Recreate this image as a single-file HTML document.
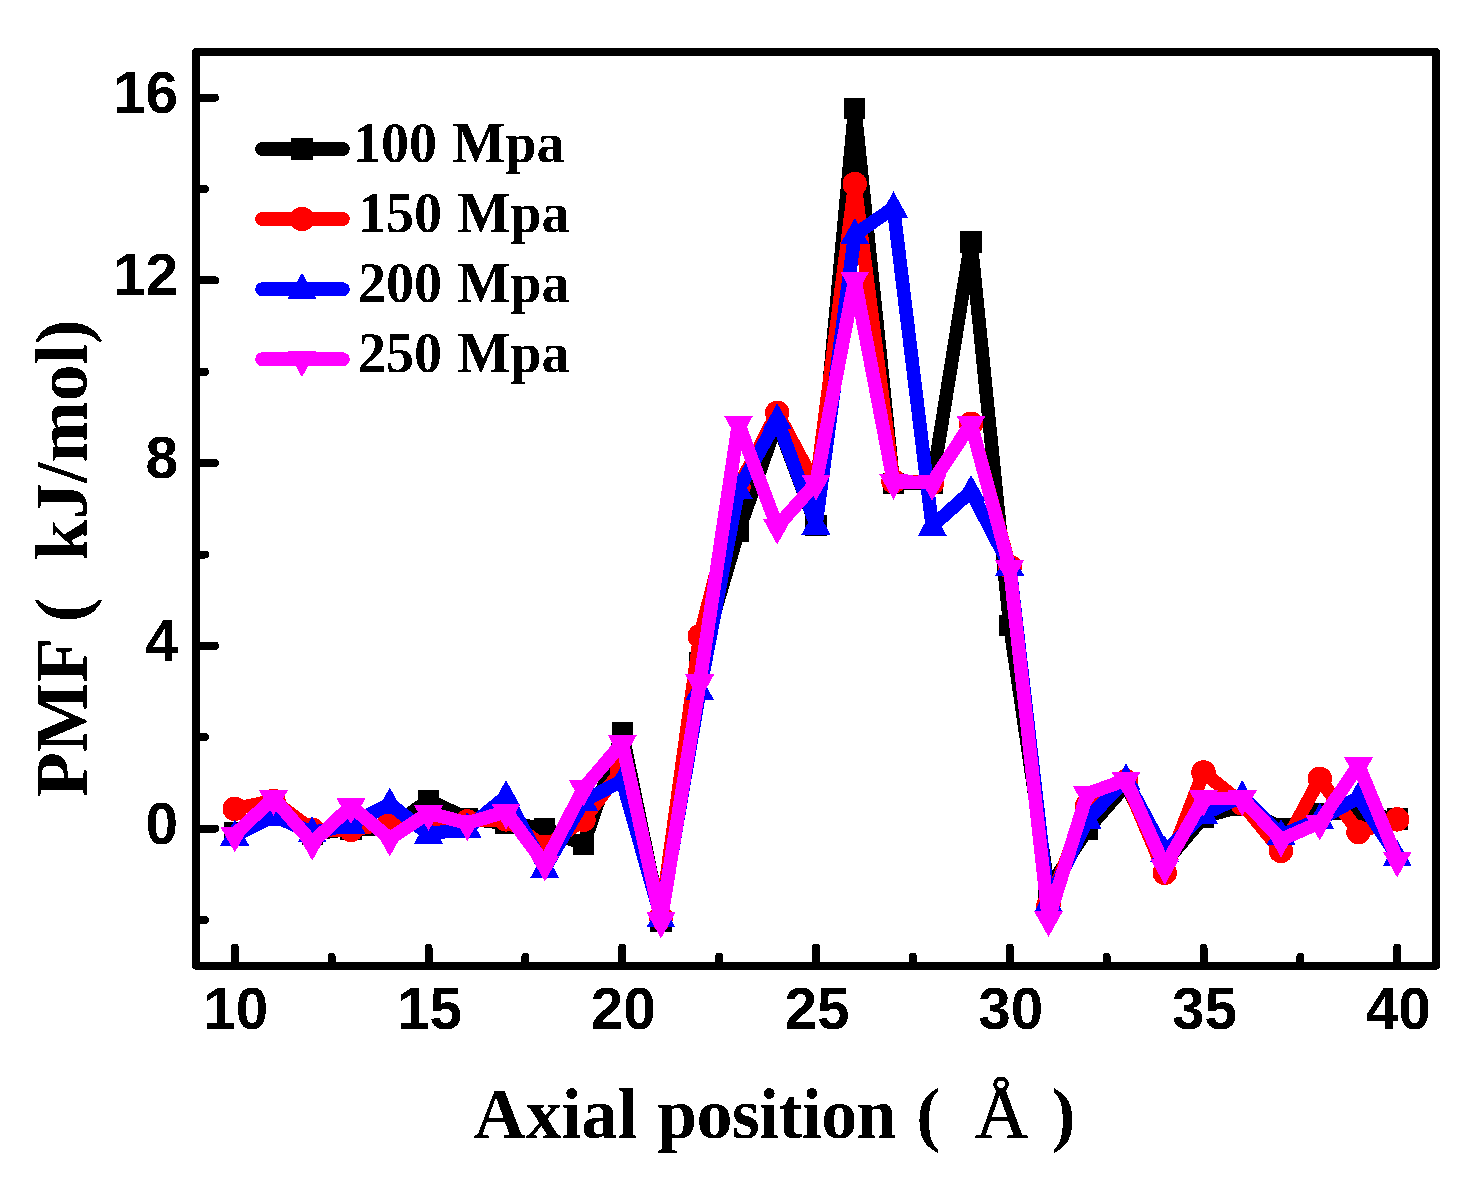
<!DOCTYPE html>
<html lang="en">
<head>
<meta charset="utf-8">
<title>PMF vs Axial position</title>
<style>
html,body{margin:0;padding:0;background:#fff;}
body{width:1479px;height:1183px;overflow:hidden;}
svg{display:block;}
.tick{font-family:"Liberation Sans",Arial,sans-serif;font-weight:700;font-size:58.5px;fill:#000;}
.leg{font-family:"Liberation Serif","Times New Roman",serif;font-weight:700;font-size:56px;fill:#000;word-spacing:1.5px;}
.ttl{font-family:"Liberation Serif","Times New Roman",serif;font-weight:700;font-size:72px;fill:#000;}
.ang{font-family:"Liberation Serif","Times New Roman",serif;font-weight:400;font-size:74px;fill:#000;stroke:#000;stroke-width:1px;}
.ytl{font-family:"Liberation Serif","Times New Roman",serif;font-weight:700;font-size:73.5px;fill:#000;}
</style>
</head>
<body>
<svg width="1479" height="1183" viewBox="0 0 1479 1183">
<defs><filter id="crisp" x="-0.2" y="-0.3" width="1.4" height="1.6" color-interpolation-filters="sRGB"><feComponentTransfer><feFuncA type="discrete" tableValues="0 1"/></feComponentTransfer></filter></defs>
<rect x="0" y="0" width="1479" height="1183" fill="#fff"/>
<g shape-rendering="crispEdges">
<polyline fill="none" stroke="#000000" stroke-width="13.6" stroke-linejoin="round" stroke-linecap="round" points="234.8,832.7 273.5,814.9 312.2,834.0 351.0,829.0 389.8,828.6 428.5,800.2 467.2,818.5 506.0,823.5 544.8,828.1 583.5,844.5 622.2,732.6 661.0,921.3 699.8,662.7 738.5,531.2 777.2,422.0 816.0,525.2 854.8,108.6 893.5,483.2 932.2,483.2 971.0,242.0 1009.8,625.3 1048.5,889.3 1087.2,829.5 1126.0,785.2 1164.8,862.8 1203.5,817.1 1242.2,805.7 1281.0,828.6 1319.8,813.5 1358.5,813.5 1397.2,819.0"/>
<rect x="224.2" y="822.1" width="21.2" height="21.2" fill="#000000"/>
<rect x="262.9" y="804.3" width="21.2" height="21.2" fill="#000000"/>
<rect x="301.6" y="823.4" width="21.2" height="21.2" fill="#000000"/>
<rect x="340.4" y="818.4" width="21.2" height="21.2" fill="#000000"/>
<rect x="379.1" y="818.0" width="21.2" height="21.2" fill="#000000"/>
<rect x="417.9" y="789.6" width="21.2" height="21.2" fill="#000000"/>
<rect x="456.6" y="807.9" width="21.2" height="21.2" fill="#000000"/>
<rect x="495.4" y="812.9" width="21.2" height="21.2" fill="#000000"/>
<rect x="534.1" y="817.5" width="21.2" height="21.2" fill="#000000"/>
<rect x="572.9" y="833.9" width="21.2" height="21.2" fill="#000000"/>
<rect x="611.6" y="722.0" width="21.2" height="21.2" fill="#000000"/>
<rect x="650.4" y="910.7" width="21.2" height="21.2" fill="#000000"/>
<rect x="689.1" y="652.1" width="21.2" height="21.2" fill="#000000"/>
<rect x="727.9" y="520.6" width="21.2" height="21.2" fill="#000000"/>
<rect x="766.6" y="411.4" width="21.2" height="21.2" fill="#000000"/>
<rect x="805.4" y="514.6" width="21.2" height="21.2" fill="#000000"/>
<rect x="844.1" y="98.0" width="21.2" height="21.2" fill="#000000"/>
<rect x="882.9" y="472.6" width="21.2" height="21.2" fill="#000000"/>
<rect x="921.6" y="472.6" width="21.2" height="21.2" fill="#000000"/>
<rect x="960.4" y="231.4" width="21.2" height="21.2" fill="#000000"/>
<rect x="999.1" y="614.7" width="21.2" height="21.2" fill="#000000"/>
<rect x="1037.9" y="878.7" width="21.2" height="21.2" fill="#000000"/>
<rect x="1076.7" y="818.9" width="21.2" height="21.2" fill="#000000"/>
<rect x="1115.4" y="774.6" width="21.2" height="21.2" fill="#000000"/>
<rect x="1154.2" y="852.2" width="21.2" height="21.2" fill="#000000"/>
<rect x="1192.9" y="806.5" width="21.2" height="21.2" fill="#000000"/>
<rect x="1231.7" y="795.1" width="21.2" height="21.2" fill="#000000"/>
<rect x="1270.4" y="818.0" width="21.2" height="21.2" fill="#000000"/>
<rect x="1309.2" y="802.9" width="21.2" height="21.2" fill="#000000"/>
<rect x="1347.9" y="802.9" width="21.2" height="21.2" fill="#000000"/>
<rect x="1386.7" y="808.4" width="21.2" height="21.2" fill="#000000"/>
<polyline fill="none" stroke="#ff0000" stroke-width="13.6" stroke-linejoin="round" stroke-linecap="round" points="234.8,808.9 273.5,800.7 312.2,829.9 351.0,829.9 389.8,823.5 428.5,821.7 467.2,821.3 506.0,819.4 544.8,846.8 583.5,819.9 622.2,769.2 661.0,917.2 699.8,636.2 738.5,486.9 777.2,412.9 816.0,486.0 854.8,184.0 893.5,481.4 932.2,482.8 971.0,423.8 1009.8,566.8 1048.5,905.3 1087.2,805.7 1126.0,781.1 1164.8,872.9 1203.5,772.4 1242.2,803.4 1281.0,850.9 1319.8,778.8 1358.5,832.2 1397.2,819.4"/>
<circle cx="234.8" cy="808.9" r="12.2" fill="#ff0000"/>
<circle cx="273.5" cy="800.7" r="12.2" fill="#ff0000"/>
<circle cx="312.2" cy="829.9" r="12.2" fill="#ff0000"/>
<circle cx="351.0" cy="829.9" r="12.2" fill="#ff0000"/>
<circle cx="389.8" cy="823.5" r="12.2" fill="#ff0000"/>
<circle cx="428.5" cy="821.7" r="12.2" fill="#ff0000"/>
<circle cx="467.2" cy="821.3" r="12.2" fill="#ff0000"/>
<circle cx="506.0" cy="819.4" r="12.2" fill="#ff0000"/>
<circle cx="544.8" cy="846.8" r="12.2" fill="#ff0000"/>
<circle cx="583.5" cy="819.9" r="12.2" fill="#ff0000"/>
<circle cx="622.2" cy="769.2" r="12.2" fill="#ff0000"/>
<circle cx="661.0" cy="917.2" r="12.2" fill="#ff0000"/>
<circle cx="699.8" cy="636.2" r="12.2" fill="#ff0000"/>
<circle cx="738.5" cy="486.9" r="12.2" fill="#ff0000"/>
<circle cx="777.2" cy="412.9" r="12.2" fill="#ff0000"/>
<circle cx="816.0" cy="486.0" r="12.2" fill="#ff0000"/>
<circle cx="854.8" cy="184.0" r="12.2" fill="#ff0000"/>
<circle cx="893.5" cy="481.4" r="12.2" fill="#ff0000"/>
<circle cx="932.2" cy="482.8" r="12.2" fill="#ff0000"/>
<circle cx="971.0" cy="423.8" r="12.2" fill="#ff0000"/>
<circle cx="1009.8" cy="566.8" r="12.2" fill="#ff0000"/>
<circle cx="1048.5" cy="905.3" r="12.2" fill="#ff0000"/>
<circle cx="1087.2" cy="805.7" r="12.2" fill="#ff0000"/>
<circle cx="1126.0" cy="781.1" r="12.2" fill="#ff0000"/>
<circle cx="1164.8" cy="872.9" r="12.2" fill="#ff0000"/>
<circle cx="1203.5" cy="772.4" r="12.2" fill="#ff0000"/>
<circle cx="1242.2" cy="803.4" r="12.2" fill="#ff0000"/>
<circle cx="1281.0" cy="850.9" r="12.2" fill="#ff0000"/>
<circle cx="1319.8" cy="778.8" r="12.2" fill="#ff0000"/>
<circle cx="1358.5" cy="832.2" r="12.2" fill="#ff0000"/>
<circle cx="1397.2" cy="819.4" r="12.2" fill="#ff0000"/>
<polyline fill="none" stroke="#0000ff" stroke-width="13.6" stroke-linejoin="round" stroke-linecap="round" points="234.8,835.9 273.5,815.8 312.2,832.7 351.0,824.4 389.8,803.9 428.5,834.0 467.2,828.6 506.0,796.6 544.8,868.3 583.5,801.2 622.2,780.6 661.0,917.6 699.8,690.6 738.5,489.6 777.2,419.7 816.0,524.8 854.8,234.7 893.5,207.8 932.2,526.2 971.0,491.4 1009.8,565.9 1048.5,902.6 1087.2,819.4 1126.0,780.1 1164.8,852.3 1203.5,813.9 1242.2,796.6 1281.0,835.4 1319.8,819.4 1358.5,797.5 1397.2,856.4"/>
<polygon points="234.8,819.4 220.2,845.6 249.2,845.6" fill="#0000ff"/>
<polygon points="273.5,799.3 259.0,825.5 288.0,825.5" fill="#0000ff"/>
<polygon points="312.2,816.2 297.8,842.4 326.8,842.4" fill="#0000ff"/>
<polygon points="351.0,807.9 336.5,834.1 365.5,834.1" fill="#0000ff"/>
<polygon points="389.8,787.4 375.2,813.6 404.2,813.6" fill="#0000ff"/>
<polygon points="428.5,817.5 414.0,843.7 443.0,843.7" fill="#0000ff"/>
<polygon points="467.2,812.1 452.8,838.3 481.8,838.3" fill="#0000ff"/>
<polygon points="506.0,780.1 491.5,806.3 520.5,806.3" fill="#0000ff"/>
<polygon points="544.8,851.8 530.2,878.0 559.2,878.0" fill="#0000ff"/>
<polygon points="583.5,784.7 569.0,810.9 598.0,810.9" fill="#0000ff"/>
<polygon points="622.2,764.1 607.8,790.3 636.8,790.3" fill="#0000ff"/>
<polygon points="661.0,901.1 646.5,927.3 675.5,927.3" fill="#0000ff"/>
<polygon points="699.8,674.1 685.2,700.3 714.2,700.3" fill="#0000ff"/>
<polygon points="738.5,473.1 724.0,499.3 753.0,499.3" fill="#0000ff"/>
<polygon points="777.2,403.2 762.8,429.4 791.8,429.4" fill="#0000ff"/>
<polygon points="816.0,508.3 801.5,534.5 830.5,534.5" fill="#0000ff"/>
<polygon points="854.8,218.2 840.2,244.4 869.2,244.4" fill="#0000ff"/>
<polygon points="893.5,191.3 879.0,217.5 908.0,217.5" fill="#0000ff"/>
<polygon points="932.2,509.7 917.8,535.9 946.8,535.9" fill="#0000ff"/>
<polygon points="971.0,474.9 956.5,501.1 985.5,501.1" fill="#0000ff"/>
<polygon points="1009.8,549.4 995.2,575.6 1024.2,575.6" fill="#0000ff"/>
<polygon points="1048.5,886.1 1034.0,912.3 1063.0,912.3" fill="#0000ff"/>
<polygon points="1087.2,802.9 1072.8,829.1 1101.8,829.1" fill="#0000ff"/>
<polygon points="1126.0,763.6 1111.5,789.8 1140.5,789.8" fill="#0000ff"/>
<polygon points="1164.8,835.8 1150.2,862.0 1179.2,862.0" fill="#0000ff"/>
<polygon points="1203.5,797.4 1189.0,823.6 1218.0,823.6" fill="#0000ff"/>
<polygon points="1242.2,780.1 1227.8,806.3 1256.8,806.3" fill="#0000ff"/>
<polygon points="1281.0,818.9 1266.5,845.1 1295.5,845.1" fill="#0000ff"/>
<polygon points="1319.8,802.9 1305.2,829.1 1334.2,829.1" fill="#0000ff"/>
<polygon points="1358.5,781.0 1344.0,807.2 1373.0,807.2" fill="#0000ff"/>
<polygon points="1397.2,839.9 1382.8,866.1 1411.8,866.1" fill="#0000ff"/>
<polyline fill="none" stroke="#ff00ff" stroke-width="13.6" stroke-linejoin="round" stroke-linecap="round" points="234.8,834.5 273.5,798.0 312.2,842.7 351.0,806.2 389.8,838.6 428.5,813.0 467.2,823.1 506.0,811.7 544.8,863.7 583.5,788.4 622.2,743.1 661.0,920.4 699.8,682.4 738.5,423.8 777.2,526.6 816.0,482.8 854.8,279.5 893.5,481.8 932.2,482.8 971.0,423.8 1009.8,568.2 1048.5,919.0 1087.2,793.8 1126.0,779.9 1164.8,866.9 1203.5,798.4 1242.2,798.4 1281.0,839.5 1319.8,822.6 1358.5,765.1 1397.2,859.6"/>
<polygon points="234.8,852.5 220.2,826.5 249.2,826.5" fill="#ff00ff"/>
<polygon points="273.5,816.0 259.0,790.0 288.0,790.0" fill="#ff00ff"/>
<polygon points="312.2,860.7 297.8,834.7 326.8,834.7" fill="#ff00ff"/>
<polygon points="351.0,824.2 336.5,798.2 365.5,798.2" fill="#ff00ff"/>
<polygon points="389.8,856.6 375.2,830.6 404.2,830.6" fill="#ff00ff"/>
<polygon points="428.5,831.0 414.0,805.0 443.0,805.0" fill="#ff00ff"/>
<polygon points="467.2,841.1 452.8,815.1 481.8,815.1" fill="#ff00ff"/>
<polygon points="506.0,829.7 491.5,803.7 520.5,803.7" fill="#ff00ff"/>
<polygon points="544.8,881.7 530.2,855.7 559.2,855.7" fill="#ff00ff"/>
<polygon points="583.5,806.4 569.0,780.4 598.0,780.4" fill="#ff00ff"/>
<polygon points="622.2,761.1 607.8,735.1 636.8,735.1" fill="#ff00ff"/>
<polygon points="661.0,938.4 646.5,912.4 675.5,912.4" fill="#ff00ff"/>
<polygon points="699.8,700.4 685.2,674.4 714.2,674.4" fill="#ff00ff"/>
<polygon points="738.5,441.8 724.0,415.8 753.0,415.8" fill="#ff00ff"/>
<polygon points="777.2,544.6 762.8,518.6 791.8,518.6" fill="#ff00ff"/>
<polygon points="816.0,500.8 801.5,474.8 830.5,474.8" fill="#ff00ff"/>
<polygon points="854.8,297.5 840.2,271.5 869.2,271.5" fill="#ff00ff"/>
<polygon points="893.5,499.8 879.0,473.8 908.0,473.8" fill="#ff00ff"/>
<polygon points="932.2,500.8 917.8,474.8 946.8,474.8" fill="#ff00ff"/>
<polygon points="971.0,441.8 956.5,415.8 985.5,415.8" fill="#ff00ff"/>
<polygon points="1009.8,586.2 995.2,560.2 1024.2,560.2" fill="#ff00ff"/>
<polygon points="1048.5,937.0 1034.0,911.0 1063.0,911.0" fill="#ff00ff"/>
<polygon points="1087.2,811.8 1072.8,785.8 1101.8,785.8" fill="#ff00ff"/>
<polygon points="1126.0,797.9 1111.5,771.9 1140.5,771.9" fill="#ff00ff"/>
<polygon points="1164.8,884.9 1150.2,858.9 1179.2,858.9" fill="#ff00ff"/>
<polygon points="1203.5,816.4 1189.0,790.4 1218.0,790.4" fill="#ff00ff"/>
<polygon points="1242.2,816.4 1227.8,790.4 1256.8,790.4" fill="#ff00ff"/>
<polygon points="1281.0,857.5 1266.5,831.5 1295.5,831.5" fill="#ff00ff"/>
<polygon points="1319.8,840.6 1305.2,814.6 1334.2,814.6" fill="#ff00ff"/>
<polygon points="1358.5,783.1 1344.0,757.1 1373.0,757.1" fill="#ff00ff"/>
<polygon points="1397.2,877.6 1382.8,851.6 1411.8,851.6" fill="#ff00ff"/>
</g>
<g shape-rendering="crispEdges" stroke="#000" stroke-width="8" stroke-linecap="round" stroke-linejoin="round" fill="none">
<rect x="196.0" y="52.0" width="1240.0" height="913.6"/>
<line x1="196.0" y1="828.6" x2="215.0" y2="828.6"/>
<line x1="196.0" y1="645.8" x2="215.0" y2="645.8"/>
<line x1="196.0" y1="463.1" x2="215.0" y2="463.1"/>
<line x1="196.0" y1="280.4" x2="215.0" y2="280.4"/>
<line x1="196.0" y1="97.7" x2="215.0" y2="97.7"/>
<line x1="196.0" y1="919.9" x2="205.0" y2="919.9"/>
<line x1="196.0" y1="737.2" x2="205.0" y2="737.2"/>
<line x1="196.0" y1="554.5" x2="205.0" y2="554.5"/>
<line x1="196.0" y1="371.8" x2="205.0" y2="371.8"/>
<line x1="196.0" y1="189.0" x2="205.0" y2="189.0"/>
<line x1="234.8" y1="965.6" x2="234.8" y2="947.6"/>
<line x1="428.5" y1="965.6" x2="428.5" y2="947.6"/>
<line x1="622.2" y1="965.6" x2="622.2" y2="947.6"/>
<line x1="816.0" y1="965.6" x2="816.0" y2="947.6"/>
<line x1="1009.8" y1="965.6" x2="1009.8" y2="947.6"/>
<line x1="1203.5" y1="965.6" x2="1203.5" y2="947.6"/>
<line x1="1397.2" y1="965.6" x2="1397.2" y2="947.6"/>
<line x1="331.6" y1="965.6" x2="331.6" y2="956.6"/>
<line x1="525.4" y1="965.6" x2="525.4" y2="956.6"/>
<line x1="719.1" y1="965.6" x2="719.1" y2="956.6"/>
<line x1="912.9" y1="965.6" x2="912.9" y2="956.6"/>
<line x1="1106.6" y1="965.6" x2="1106.6" y2="956.6"/>
<line x1="1300.4" y1="965.6" x2="1300.4" y2="956.6"/>
</g>
<g filter="url(#crisp)">
<text class="tick" x="178" y="843.6" text-anchor="end">0</text>
<text class="tick" x="178" y="660.8" text-anchor="end">4</text>
<text class="tick" x="178" y="478.1" text-anchor="end">8</text>
<text class="tick" x="178" y="295.4" text-anchor="end">12</text>
<text class="tick" x="178" y="112.7" text-anchor="end">16</text>
<text class="tick" x="235.8" y="1028.6" text-anchor="middle">10</text>
<text class="tick" x="429.5" y="1028.6" text-anchor="middle">15</text>
<text class="tick" x="623.2" y="1028.6" text-anchor="middle">20</text>
<text class="tick" x="817.0" y="1028.6" text-anchor="middle">25</text>
<text class="tick" x="1010.8" y="1028.6" text-anchor="middle">30</text>
<text class="tick" x="1204.5" y="1028.6" text-anchor="middle">35</text>
<text class="tick" x="1398.2" y="1028.6" text-anchor="middle">40</text>
<g shape-rendering="crispEdges">
<line x1="262" y1="149" x2="343" y2="149" stroke="#000000" stroke-width="13.6" stroke-linecap="round"/>
<rect x="291.4" y="138.4" width="21.2" height="21.2" fill="#000000"/>
<line x1="262" y1="219" x2="343" y2="219" stroke="#ff0000" stroke-width="13.6" stroke-linecap="round"/>
<circle cx="302.0" cy="219.0" r="12.2" fill="#ff0000"/>
<line x1="262" y1="289.2" x2="343" y2="289.2" stroke="#0000ff" stroke-width="13.6" stroke-linecap="round"/>
<polygon points="302.0,272.7 287.5,298.9 316.5,298.9" fill="#0000ff"/>
<line x1="262" y1="359.2" x2="343" y2="359.2" stroke="#ff00ff" stroke-width="13.6" stroke-linecap="round"/>
<polygon points="302.0,377.2 287.5,351.2 316.5,351.2" fill="#ff00ff"/>
</g>
<text class="leg" x="353" y="161.5">100 Mpa</text>
<text class="leg" x="358" y="231.8">150 Mpa</text>
<text class="leg" x="358" y="302">200 Mpa</text>
<text class="leg" x="358" y="372.2">250 Mpa</text>
<text class="ttl" y="1138"><tspan x="473.5">Axial</tspan> <tspan x="657" style="letter-spacing:-0.65px">position</tspan> <tspan x="916.3">(</tspan> <tspan class="ang" x="975">Å</tspan> <tspan x="1051.5">)</tspan></text>
<text class="ytl" transform="translate(86.5,797) rotate(-90)"><tspan x="0">PMF (</tspan> <tspan x="236.5">kJ/mol)</tspan></text>
</g>
</svg>
</body>
</html>
